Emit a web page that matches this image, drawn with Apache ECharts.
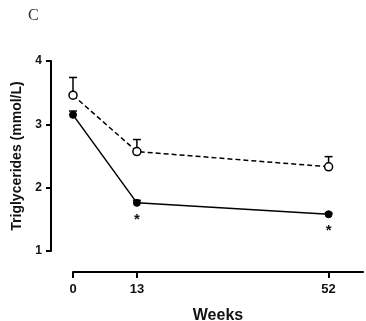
<!DOCTYPE html>
<html><head><meta charset="utf-8">
<script src="https://cdn.jsdelivr.net/npm/echarts@6/dist/echarts.min.js"></script>
<style>html,body{margin:0;padding:0;background:#fff}#c{width:366px;height:321px}</style>
</head><body><div id="c"></div>
<script>
var weeks = [0, 13, 52];
var openMean = [3.46, 2.57, 2.33];
var openErr = [0.28, 0.19, 0.16];
var filledMean = [3.15, 1.76, 1.58];
var filledErr = [0.06, 0.04, 0.02];
var significant = [false, true, true];
var yTicks = [1, 2, 3, 4];
var xTicks = [0, 13, 52];

var chart = echarts.init(document.getElementById('c'));
function errData(mean, err) {
  return weeks.map(function (w, i) { return [w, mean[i], mean[i] + err[i]]; });
}
function errSeries(mean, err) {
  return {
    type: 'custom', z: 1, silent: true,
    renderItem: function (params, api) {
      var x = api.value(0);
      var p0 = api.coord([x, api.value(1)]);
      var p1 = api.coord([x, api.value(2)]);
      return {
        type: 'group', children: [
          { type: 'line', shape: { x1: p0[0], y1: p0[1], x2: p1[0], y2: p1[1] }, style: { stroke: '#000', lineWidth: 1.5 } },
          { type: 'line', shape: { x1: p1[0] - 4, y1: p1[1], x2: p1[0] + 4, y2: p1[1] }, style: { stroke: '#000', lineWidth: 1.5 } }
        ]
      };
    },
    data: errData(mean, err)
  };
}
var fam = '"Liberation Sans", Arial, sans-serif';
chart.setOption({
  animation: false,
  grid: { left: 73, right: 3, top: 61, bottom: 70, outerBoundsMode: 'none', containLabel: false },
  graphic: [{ type: 'text', left: 28, top: 8, style: { text: 'C', font: '16px "Liberation Serif", serif', fill: '#333' } }],
  xAxis: {
    type: 'value', min: 0, max: 59, offset: 21,
    axisLine: { onZero: false, lineStyle: { color: '#000', width: 2 } },
    axisTick: { length: 6, lineStyle: { color: '#000', width: 2 }, customValues: xTicks },
    axisLabel: { customValues: xTicks, color: '#111', fontWeight: 'bold', fontSize: 13, fontFamily: fam, margin: 11 },
    splitLine: { show: false },
    name: 'Weeks', nameLocation: 'middle', nameGap: 36,
    nameTextStyle: { color: '#111', fontWeight: 'bold', fontSize: 16, fontFamily: fam }
  },
  yAxis: {
    type: 'value', min: 1, max: 4, interval: 1, offset: 22,
    customValues: yTicks,
    axisLine: { show: true, onZero: false, lineStyle: { color: '#000', width: 2 } },
    axisTick: { show: true, length: 5, lineStyle: { color: '#000', width: 2 } },
    axisLabel: { color: '#111', fontWeight: 'bold', fontSize: 12, fontFamily: fam, margin: 9 },
    splitLine: { show: false },
    name: 'Triglycerides (mmol/L)', nameLocation: 'middle', nameGap: 26,
    nameTextStyle: { color: '#111', fontWeight: 'bold', fontSize: 14, fontFamily: fam }
  },
  series: [
    errSeries(openMean, openErr),
    errSeries(filledMean, filledErr),
    {
      type: 'line', z: 3,
      data: weeks.map(function (w, i) { return [w, openMean[i]]; }),
      symbol: 'circle', symbolSize: 8,
      itemStyle: { color: '#fff', borderColor: '#000', borderWidth: 1.5 },
      lineStyle: { color: '#000', width: 1.5, type: [5, 3] }
    },
    {
      type: 'line', z: 3,
      data: weeks.map(function (w, i) {
        return {
          value: [w, filledMean[i]],
          label: { show: significant[i], formatter: '*', position: 'bottom', distance: 5, fontSize: 15, fontWeight: 'bold', color: '#111' }
        };
      }),
      symbol: 'circle', symbolSize: 7,
      itemStyle: { color: '#000', borderColor: '#000' },
      lineStyle: { color: '#000', width: 1.5 }
    }
  ]
});
</script></body></html>
